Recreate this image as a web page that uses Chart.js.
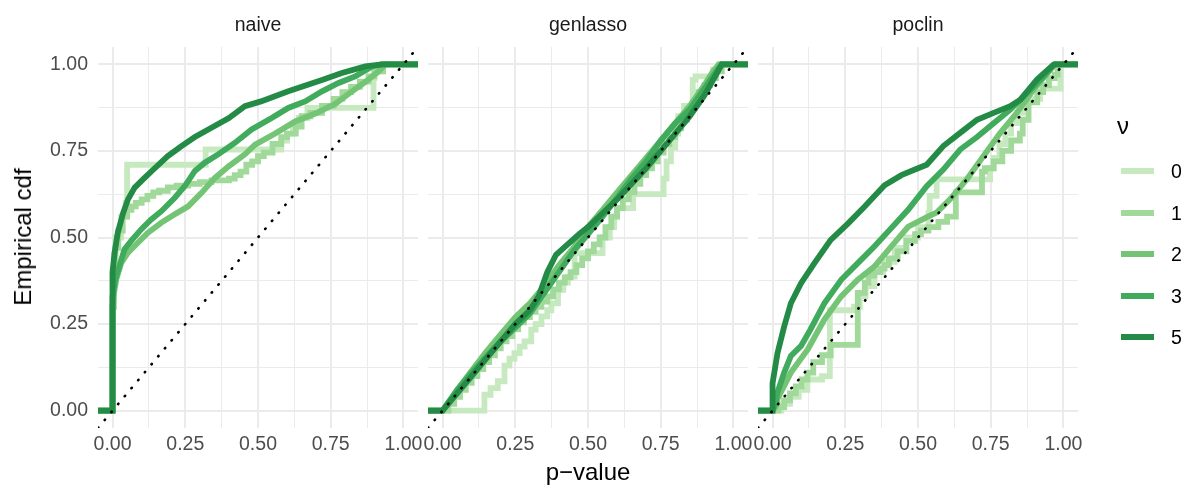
<!DOCTYPE html>
<html>
<head>
<meta charset="utf-8">
<script src="https://cdn.jsdelivr.net/npm/chart.js@4.4.1/dist/chart.umd.min.js"></script>
<style>
  body { margin: 0; background: #fff; }
  #wrap { position: relative; width: 1184px; height: 490px; font-family: "Liberation Sans", Arial, sans-serif; }
  #wrap canvas { position: absolute; left: 0; top: 0; }
  .lbl { position: absolute; white-space: nowrap; transform: translate(-50%, -50%); }
  .strip { font-size: 19.5px; color: #1a1a1a; }
  .title { font-size: 24px; color: #000; }
  .key { position: absolute; width: 33px; height: 6px; }
  .keytxt { position: absolute; font-size: 19.5px; color: #000; transform: translateY(-50%); }
</style>
</head>
<body>
<div id="wrap">
  <canvas id="c0" width="1184" height="490"></canvas>
  <canvas id="c1" width="1184" height="490"></canvas>
  <canvas id="c2" width="1184" height="490"></canvas>
</div>
<script>
// ─── Axes ─────────────────────────────────────────────
const X_MIN = -0.05, X_MAX = 1.05;
const GRID_STEP = 0.125;
const TICKS = [0, 0.25, 0.5, 0.75, 1];
const PANELS = ['naive', 'genlasso', 'poclin'];
const NU_LEVELS = ['0', '1', '2', '3', '5'];

// ─── naive ────────────────────────────────────────────
const naive0_p = [0, 0.005, 0.01, 0.03, 0.045, 0.05, 0.32, 0.58, 0.60, 0.62, 0.64, 0.67, 0.897, 0.90, 0.926];
const naive0_F = [0.40, 0.45, 0.50, 0.56, 0.60, 0.71, 0.754, 0.78, 0.80, 0.82, 0.845, 0.874, 0.96, 0.98, 1];
const naive1_p = [0, 0.005, 0.01, 0.02, 0.035, 0.05, 0.065, 0.08, 0.10, 0.12, 0.14, 0.16, 0.19, 0.22, 0.26, 0.30, 0.34, 0.40, 0.42, 0.44, 0.46, 0.48, 0.50, 0.52, 0.55, 0.58, 0.60, 0.63, 0.65, 0.68, 0.72, 0.76, 0.79, 0.82, 0.85, 0.88, 0.90, 0.93];
const naive1_F = [0.30, 0.42, 0.47, 0.52, 0.56, 0.58, 0.59, 0.60, 0.61, 0.62, 0.63, 0.635, 0.645, 0.65, 0.655, 0.66, 0.665, 0.67, 0.68, 0.69, 0.71, 0.72, 0.735, 0.745, 0.77, 0.79, 0.80, 0.82, 0.85, 0.86, 0.88, 0.90, 0.92, 0.935, 0.95, 0.965, 0.98, 1];
const naive2_p = [0, 0, 0.005, 0.013, 0.03, 0.053, 0.087, 0.122, 0.168, 0.214, 0.26, 0.306, 0.352, 0.40, 0.455, 0.49, 0.559, 0.628, 0.697, 0.766, 0.812, 0.869, 0.915, 0.938];
const naive2_F = [0, 0.30, 0.34, 0.38, 0.427, 0.456, 0.485, 0.514, 0.543, 0.567, 0.59, 0.629, 0.672, 0.706, 0.74, 0.768, 0.80, 0.835, 0.858, 0.886, 0.915, 0.949, 0.98, 1];
const naive3_p = [0, 0, 0.01, 0.024, 0.041, 0.064, 0.099, 0.133, 0.168, 0.214, 0.248, 0.283, 0.317, 0.363, 0.42, 0.478, 0.547, 0.604, 0.662, 0.72, 0.777, 0.834, 0.892, 0.926];
const naive3_F = [0, 0.33, 0.38, 0.418, 0.466, 0.49, 0.524, 0.552, 0.576, 0.615, 0.648, 0.692, 0.716, 0.74, 0.773, 0.812, 0.845, 0.874, 0.893, 0.922, 0.946, 0.965, 0.994, 1];
const naive5_p = [0, 0, 0.007, 0.018, 0.036, 0.053, 0.076, 0.11, 0.145, 0.19, 0.237, 0.283, 0.34, 0.40, 0.455, 0.51, 0.604, 0.72, 0.788, 0.869, 0.926];
const naive5_F = [0, 0.40, 0.456, 0.514, 0.57, 0.61, 0.644, 0.672, 0.70, 0.735, 0.764, 0.79, 0.817, 0.845, 0.879, 0.893, 0.922, 0.955, 0.975, 0.994, 1];

// ─── genlasso ─────────────────────────────────────────
const genlasso0_p = [0.144, 0.165, 0.19, 0.213, 0.23, 0.247, 0.265, 0.282, 0.305, 0.32, 0.34, 0.36, 0.374, 0.397, 0.415, 0.431, 0.454, 0.55, 0.575, 0.59, 0.60, 0.655, 0.76, 0.77, 0.785, 0.80, 0.81, 0.83, 0.86, 0.87, 0.93, 0.95];
const genlasso0_F = [0.046, 0.065, 0.085, 0.13, 0.15, 0.166, 0.185, 0.2, 0.234, 0.25, 0.272, 0.29, 0.31, 0.349, 0.37, 0.387, 0.455, 0.50, 0.53, 0.56, 0.585, 0.625, 0.67, 0.72, 0.76, 0.80, 0.85, 0.88, 0.955, 0.965, 0.985, 1];
const genlasso1_p = [0.02, 0.04, 0.06, 0.08, 0.10, 0.12, 0.14, 0.16, 0.18, 0.20, 0.22, 0.24, 0.26, 0.28, 0.30, 0.32, 0.34, 0.36, 0.38, 0.40, 0.42, 0.44, 0.46, 0.48, 0.50, 0.52, 0.54, 0.56, 0.58, 0.60, 0.62, 0.64, 0.66, 0.68, 0.70, 0.72, 0.74, 0.76, 0.78, 0.80, 0.82, 0.84, 0.86, 0.88, 0.90, 0.92, 0.94, 0.96];
const genlasso1_F = [0.02, 0.04, 0.06, 0.08, 0.10, 0.12, 0.14, 0.16, 0.18, 0.20, 0.215, 0.235, 0.255, 0.27, 0.285, 0.30, 0.315, 0.33, 0.35, 0.37, 0.385, 0.40, 0.42, 0.44, 0.46, 0.48, 0.50, 0.53, 0.56, 0.585, 0.61, 0.63, 0.655, 0.68, 0.70, 0.72, 0.745, 0.77, 0.79, 0.815, 0.84, 0.87, 0.89, 0.92, 0.94, 0.96, 0.98, 1];
const genlasso2_p = [0, 0.05, 0.1, 0.15, 0.2, 0.25, 0.3, 0.35, 0.4, 0.45, 0.5, 0.55, 0.6, 0.65, 0.7, 0.75, 0.8, 0.85, 0.9, 0.93, 0.95];
const genlasso2_F = [0, 0.06, 0.115, 0.17, 0.22, 0.27, 0.31, 0.36, 0.42, 0.47, 0.53, 0.58, 0.63, 0.68, 0.73, 0.78, 0.83, 0.88, 0.94, 0.98, 1];
const genlasso3_p = [0, 0.05, 0.1, 0.15, 0.2, 0.25, 0.3, 0.35, 0.4, 0.45, 0.5, 0.55, 0.6, 0.65, 0.7, 0.75, 0.8, 0.85, 0.9, 0.95, 0.96];
const genlasso3_F = [0, 0.06, 0.11, 0.155, 0.2, 0.24, 0.28, 0.34, 0.40, 0.46, 0.51, 0.56, 0.615, 0.67, 0.72, 0.78, 0.83, 0.87, 0.93, 0.99, 1];
const genlasso5_p = [0, 0.05, 0.1, 0.15, 0.2, 0.25, 0.3, 0.33, 0.36, 0.39, 0.43, 0.47, 0.5, 0.55, 0.6, 0.65, 0.7, 0.75, 0.8, 0.85, 0.9, 0.94, 0.96];
const genlasso5_F = [0, 0.05, 0.1, 0.15, 0.2, 0.25, 0.29, 0.33, 0.40, 0.45, 0.48, 0.51, 0.53, 0.57, 0.61, 0.655, 0.70, 0.75, 0.80, 0.85, 0.91, 0.97, 1];

// ─── poclin ───────────────────────────────────────────
const poclin0_p = [0.03, 0.06, 0.09, 0.12, 0.17, 0.197, 0.28, 0.30, 0.32, 0.35, 0.38, 0.42, 0.46, 0.50, 0.536, 0.54, 0.564, 0.748, 0.76, 0.78, 0.80, 0.82, 0.84, 0.86, 0.92, 0.99];
const poclin0_F = [0.02, 0.04, 0.06, 0.09, 0.10, 0.29, 0.30, 0.33, 0.36, 0.40, 0.43, 0.47, 0.50, 0.53, 0.57, 0.62, 0.668, 0.70, 0.73, 0.77, 0.80, 0.83, 0.86, 0.90, 0.93, 1];
const poclin1_p = [0.02, 0.04, 0.06, 0.08, 0.10, 0.12, 0.14, 0.17, 0.2, 0.293, 0.317, 0.33, 0.35, 0.37, 0.385, 0.40, 0.43, 0.46, 0.49, 0.51, 0.536, 0.57, 0.60, 0.63, 0.72, 0.73, 0.76, 0.79, 0.82, 0.85, 0.86, 0.88, 0.91, 0.93, 0.95, 0.97, 0.98];
const poclin1_F = [0.01, 0.03, 0.05, 0.07, 0.09, 0.11, 0.14, 0.16, 0.19, 0.34, 0.37, 0.39, 0.40, 0.41, 0.42, 0.44, 0.46, 0.49, 0.51, 0.52, 0.53, 0.545, 0.56, 0.63, 0.69, 0.70, 0.72, 0.75, 0.78, 0.80, 0.84, 0.89, 0.92, 0.94, 0.96, 0.97, 1];
const poclin2_p = [0, 0.01, 0.017, 0.063, 0.121, 0.178, 0.236, 0.293, 0.35, 0.408, 0.466, 0.534, 0.564, 0.61, 0.668, 0.725, 0.783, 0.84, 0.897, 0.955, 0.97];
const poclin2_F = [0, 0.01, 0.034, 0.11, 0.177, 0.263, 0.33, 0.378, 0.416, 0.474, 0.531, 0.56, 0.572, 0.61, 0.668, 0.735, 0.802, 0.86, 0.927, 0.985, 1];
const poclin3_p = [0, 0.01, 0.017, 0.04, 0.063, 0.098, 0.13, 0.178, 0.236, 0.293, 0.35, 0.408, 0.466, 0.53, 0.587, 0.645, 0.703, 0.76, 0.817, 0.875, 0.932, 0.97];
const poclin3_F = [0, 0.02, 0.053, 0.11, 0.158, 0.187, 0.234, 0.31, 0.378, 0.426, 0.474, 0.527, 0.58, 0.648, 0.696, 0.754, 0.79, 0.83, 0.869, 0.917, 0.965, 1];
const poclin5_p = [0, 0, 0.017, 0.04, 0.063, 0.098, 0.144, 0.2, 0.259, 0.316, 0.385, 0.443, 0.5, 0.53, 0.587, 0.645, 0.703, 0.76, 0.817, 0.852, 0.909, 0.966, 0.97];
const poclin5_F = [0, 0.079, 0.166, 0.243, 0.31, 0.368, 0.426, 0.493, 0.54, 0.589, 0.651, 0.68, 0.70, 0.71, 0.764, 0.802, 0.84, 0.86, 0.879, 0.898, 0.956, 0.999, 1];

// ─── Style ────────────────────────────────────────────
const GREENS = ['#c7e9c0', '#a1d99b', '#74c476', '#41ab5d', '#238b45'];
const STEPPED = [true, true, false, false, false];
const FONT = '"Liberation Sans", Arial, sans-serif';
const PANEL_BOX = [[98, 418], [428, 748], [758, 1078]];
const PLOT_TOP = 47, PLOT_BOTTOM = 428;
const AXIS_W = 70, AXIS_H = 40;

const curves = {
    naive: [[naive0_p, naive0_F], [naive1_p, naive1_F], [naive2_p, naive2_F], [naive3_p, naive3_F], [naive5_p, naive5_F]],
    genlasso: [[genlasso0_p, genlasso0_F], [genlasso1_p, genlasso1_F], [genlasso2_p, genlasso2_F], [genlasso3_p, genlasso3_F], [genlasso5_p, genlasso5_F]],
    poclin: [[poclin0_p, poclin0_F], [poclin1_p, poclin1_F], [poclin2_p, poclin2_F], [poclin3_p, poclin3_F], [poclin5_p, poclin5_F]]
};

// ecdf padded to -Inf / +Inf, i.e. the panel edges
function ecdfPoints(p, F) {
    return [{ x: X_MIN, y: 0 }, ...p.map((x, i) => ({ x, y: F[i] })), { x: X_MAX, y: 1 }];
}

function gridTicks(scale) {
    const ticks = [];
    for (let v = 0; v <= 1 + 1e-9; v += GRID_STEP) ticks.push({ value: +v.toFixed(3) });
    scale.ticks = ticks;
}
const gridWidth = ctx => (ctx.tick && TICKS.includes(ctx.tick.value) ? 2 : 1);
const tickLabel = v => (TICKS.includes(v) ? v.toFixed(2) : '');

const wrap = document.getElementById('wrap');

PANELS.forEach((name, idx) => {
    const [left, right] = PANEL_BOX[idx];
    const datasets = curves[name].map((c, i) => ({
        data: ecdfPoints(c[0], c[1]),
        borderColor: GREENS[i],
        borderWidth: 5.8,
        pointRadius: 0,
        stepped: STEPPED[i] ? 'before' : false,
        tension: 0,
        clip: 0,
        order: NU_LEVELS.length - i
    }));
    // reference line y = x
    datasets.push({
        data: [{ x: X_MIN, y: X_MIN }, { x: X_MAX, y: X_MAX }],
        borderColor: '#000',
        borderWidth: 2.6,
        borderDash: [0.5, 9.9],
        borderCapStyle: 'round',
        pointRadius: 0,
        clip: 0,
        order: 0
    });

    const tickFont = { family: FONT, size: 19.5 };
    new Chart(document.getElementById('c' + idx), {
        type: 'line',
        data: { datasets },
        options: {
            responsive: false,
            animation: false,
            events: [],
            layout: { padding: { left: left - AXIS_W, right: 1184 - right, top: PLOT_TOP, bottom: 490 - AXIS_H - PLOT_BOTTOM } },
            plugins: { legend: { display: false }, tooltip: { enabled: false } },
            scales: {
                x: {
                    type: 'linear', min: X_MIN, max: X_MAX,
                    afterBuildTicks: gridTicks,
                    afterFit: s => { s.height = AXIS_H; },
                    grid: { color: '#ebebeb', lineWidth: gridWidth, drawTicks: false },
                    border: { display: false },
                    ticks: { autoSkip: false, maxRotation: 0, padding: 5, color: '#4d4d4d', font: tickFont, callback: tickLabel }
                },
                y: {
                    type: 'linear', min: X_MIN, max: X_MAX,
                    afterBuildTicks: gridTicks,
                    afterFit: s => { s.width = AXIS_W; },
                    grid: { color: '#ebebeb', lineWidth: gridWidth, drawTicks: false },
                    border: { display: false },
                    ticks: { display: idx === 0, autoSkip: false, padding: 10, color: '#4d4d4d', font: tickFont, callback: tickLabel }
                }
            }
        }
    });

    const strip = document.createElement('div');
    strip.className = 'lbl strip';
    strip.style.left = ((left + right) / 2) + 'px';
    strip.style.top = '24px';
    strip.textContent = name;
    wrap.appendChild(strip);
});

// ─── Titles & legend ─────────────────────────────────
function addText(cls, text, x, y, extra) {
    const d = document.createElement('div');
    d.className = cls;
    d.textContent = text;
    d.style.left = x + 'px';
    d.style.top = y + 'px';
    if (extra) Object.assign(d.style, extra);
    wrap.appendChild(d);
    return d;
}
addText('lbl title', 'p\u2212value', 588, 472);
addText('lbl title', 'Empirical cdf', 23, 237, { transform: 'translate(-50%, -50%) rotate(-90deg)' });
addText('lbl title', '\u03bd', 1123, 126);

const LEGEND_Y = [171, 213, 254, 296, 337];
NU_LEVELS.forEach((lvl, i) => {
    const k = document.createElement('div');
    k.className = 'key';
    k.style.left = '1121px';
    k.style.top = (LEGEND_Y[i] - 3) + 'px';
    k.style.background = GREENS[i];
    wrap.appendChild(k);
    addText('keytxt', lvl, 1171, LEGEND_Y[i]);
});
</script>
</body>
</html>
